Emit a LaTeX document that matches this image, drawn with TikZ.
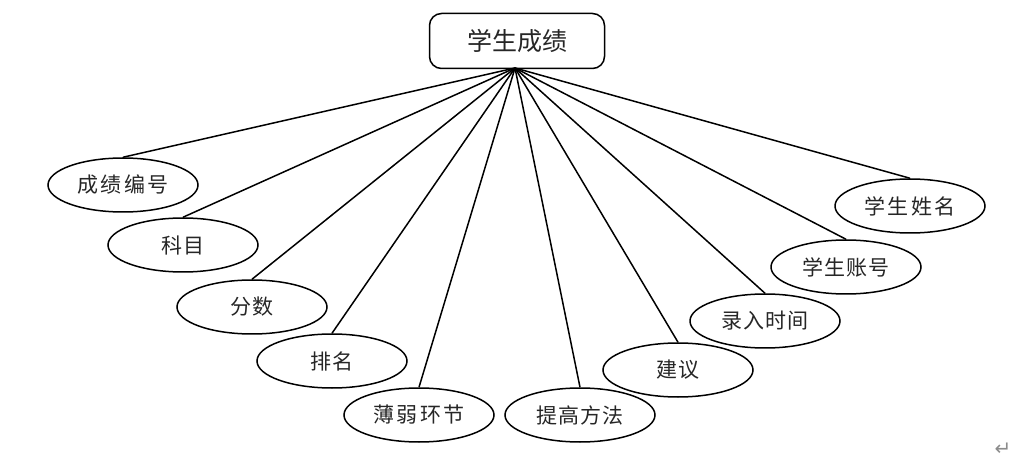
\documentclass[tikz,border=0pt]{standalone}
\usepackage{fontspec}
\newfontfamily\cjk{Noto Sans CJK SC}[LetterSpace=5]
\newfontfamily\cjkw{Noto Sans CJK SC}[LetterSpace=12]
\newfontfamily\cjkt{Noto Sans CJK SC}
\newfontfamily\dejavu{DejaVu Sans}
\usetikzlibrary{shapes.geometric}
\begin{document}
\begin{tikzpicture}[x=1pt,y=-1pt,
  attr/.style={draw=black, line width=1.5pt, ellipse, minimum width=150pt, minimum height=54pt, inner sep=0pt, font=\cjk\fontsize{21}{21}\selectfont, text=black!85},
  wide/.style={font=\cjkw\fontsize{21}{21}\selectfont},
  entity/.style={draw=black, line width=1.5pt, rounded corners=12pt, minimum width=175pt, minimum height=55pt, inner sep=0pt, font=\cjkt\fontsize{25}{25}\selectfont, text=black!85},
  conn/.style={line width=1.5pt}]
\useasboundingbox (0,0) rectangle (1031,462);
\node[entity] (e) at (517,41) {学生成绩};
\coordinate (apex) at (515,68);
\node[attr,wide] (a1) at (123,185) {成绩编号};
\node[attr] (a2) at (183,245) {科目};
\node[attr] (a3) at (252,307) {分数};
\node[attr] (a4) at (332,361) {排名};
\node[attr,wide] (a5) at (419,415) {薄弱环节};
\node[attr] (a6) at (580,415) {提高方法};
\node[attr] (a7) at (678,370) {建议};
\node[attr] (a8) at (765,321) {录入时间};
\node[attr] (a9) at (846,267) {学生账号};
\node[attr,wide] (a10) at (910,206) {学生姓名};
\foreach \i in {1,...,10} \draw[conn] (apex) -- (a\i.north);
\node[font=\dejavu\fontsize{20}{20}\selectfont, text=black!45] (ret) at (1003,449) {↵};
\end{tikzpicture}
\end{document}
